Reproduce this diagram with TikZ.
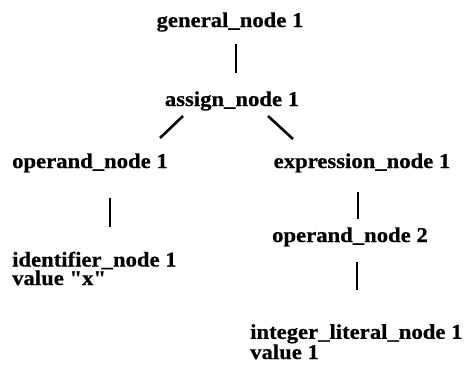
\documentclass[tikz,border=0pt]{standalone}
\usepackage{fontspec}
\newfontfamily\lblfont{Liberation Serif}[FakeStretch=1.08,FakeBold=0.6]
\usetikzlibrary{calc}
\begin{document}
\begin{tikzpicture}[x=1pt,y=-1pt,
  lbl/.style={inner sep=0pt, anchor=base, align=left,
    font={\lblfont\bfseries\fontsize{21}{18.5}\selectfont}},
  edge/.style={line width=2.6pt, line cap=butt}]
\useasboundingbox (0,0) rectangle (464,383);
\fill[white] (0,0) rectangle (464,383);
\node[lbl] (g) at (230,27) {general\_node 1};
\node[lbl] (a) at (232,106) {assign\_node 1};
\node[lbl] (o1) at (90,168) {operand\_node 1};
\node[lbl] (e) at (362,168) {expression\_node 1};
\node[lbl, anchor=base west] (id) at (12,285) {identifier\_node 1\\value "x"};
\node[lbl] (o2) at (350,242) {operand\_node 2};
\node[lbl, anchor=base west] (il) at (250,359) {integer\_literal\_node 1\\value 1};
\draw[edge] ($(g.base)+(6,17)$) -- ($(a.base)+(4,-33)$);
\draw[edge] ($(a.base)+(-49,10)$) -- ($(o1.base)+(70,-30)$);
\draw[edge] ($(a.base)+(36,10)$) -- ($(e.base)+(-69,-29)$);
\draw[edge] ($(o1.base)+(20,30)$) -- ($(o1.base)+(20,59)$);
\draw[edge] ($(e.base)+(-4,24)$) -- ($(o2.base)+(8,-23)$);
\draw[edge] ($(o2.base)+(7,20)$) -- ($(o2.base)+(7,48)$);
\end{tikzpicture}
\end{document}
